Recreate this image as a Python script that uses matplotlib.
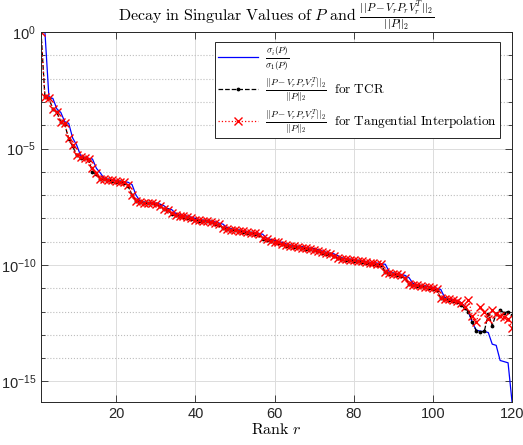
import matplotlib
matplotlib.use('Agg')
import matplotlib.pyplot as plt
from matplotlib.ticker import NullFormatter, FixedFormatter
from matplotlib.font_manager import FontProperties
import numpy as np

plt.rcParams['font.family'] = ['Liberation Sans', 'DejaVu Sans']
plt.rcParams['mathtext.fontset'] = 'custom'
plt.rcParams['mathtext.rm'] = 'Liberation Sans'
plt.rcParams['mathtext.it'] = 'Liberation Sans:italic'

# rank index
rank = np.arange(1, 121)

# log10 of sigma_i(P)/sigma_1(P)
sigma_log10 = [
    0, -0.02, -2.8, -2.85, -3.3, -3.45, -3.85, -3.92, -4.55, -4.85,
    -5.3, -5.38, -5.42, -5.45, -5.85, -6.05, -6.3, -6.32, -6.35, -6.37,
    -6.4, -6.42, -6.45, -6.55, -7.0, -7.25, -7.3, -7.32, -7.33, -7.35,
    -7.38, -7.45, -7.58, -7.62, -7.78, -7.85, -7.88, -7.9, -7.95, -8.0,
    -8.05, -8.08, -8.1, -8.12, -8.15, -8.2, -8.25, -8.4, -8.45, -8.48,
    -8.5, -8.53, -8.56, -8.6, -8.62, -8.64, -8.68, -8.85, -8.9, -8.95,
    -9.0, -9.03, -9.1, -9.15, -9.18, -9.2, -9.22, -9.25, -9.28, -9.3,
    -9.35, -9.4, -9.45, -9.5, -9.52, -9.6, -9.7, -9.73, -9.75, -9.78,
    -9.8, -9.82, -9.85, -9.88, -9.9, -9.92, -9.95, -9.97, -10.3, -10.35,
    -10.38, -10.4, -10.45, -10.55, -10.8, -10.85, -10.88, -10.9, -10.93, -10.96,
    -11.0, -11.05, -11.4, -11.45, -11.48, -11.52, -11.6, -11.75, -12.0, -12.5,
    -12.8, -12.84, -12.86, -12.9, -13.4, -13.45, -14.1, -14.15, -14.2, -15.87]

# log10 of relative error, TCR
tcr_log10 = [
    0, -2.8, -2.85, -3.3, -3.45, -3.85, -3.95, -4.6, -4.9, -5.3,
    -5.4, -5.42, -5.5, -6.0, -6.1, -6.3, -6.33, -6.36, -6.38, -6.42,
    -6.44, -6.47, -6.6, -7.0, -7.25, -7.3, -7.33, -7.35, -7.36, -7.4,
    -7.47, -7.6, -7.65, -7.8, -7.86, -7.9, -7.92, -7.97, -8.02, -8.06,
    -8.1, -8.12, -8.13, -8.17, -8.22, -8.28, -8.42, -8.46, -8.5, -8.52,
    -8.55, -8.58, -8.62, -8.64, -8.66, -8.7, -8.88, -8.92, -8.97, -9.02,
    -9.05, -9.12, -9.17, -9.2, -9.22, -9.24, -9.27, -9.3, -9.33, -9.37,
    -9.42, -9.47, -9.52, -9.55, -9.62, -9.72, -9.76, -9.78, -9.8, -9.83,
    -9.85, -9.88, -9.92, -9.94, -9.96, -9.98, -10.0, -10.32, -10.37, -10.4,
    -10.42, -10.48, -10.58, -10.82, -10.87, -10.9, -10.92, -10.95, -10.98, -11.02,
    -11.08, -11.42, -11.47, -11.5, -11.55, -11.58, -11.7, -11.85, -12.0, -12.45,
    -12.85, -12.88, -12.85, -12.1, -12.6, -12.1, -11.95, -12.05, -12.0, -12.15]

# log10 of relative error, tangential interpolation
tang_log10 = [
    0, -2.8, -2.85, -3.3, -3.45, -3.85, -3.92, -4.55, -4.85, -5.3,
    -5.38, -5.42, -5.45, -5.85, -6.05, -6.3, -6.32, -6.35, -6.37, -6.4,
    -6.42, -6.45, -6.55, -7.0, -7.25, -7.3, -7.32, -7.33, -7.35, -7.38,
    -7.45, -7.58, -7.62, -7.78, -7.85, -7.88, -7.9, -7.95, -8.0, -8.05,
    -8.08, -8.1, -8.12, -8.15, -8.2, -8.25, -8.4, -8.45, -8.48, -8.5,
    -8.53, -8.56, -8.6, -8.62, -8.64, -8.68, -8.85, -8.9, -8.95, -9.0,
    -9.03, -9.1, -9.15, -9.18, -9.2, -9.22, -9.25, -9.28, -9.3, -9.35,
    -9.4, -9.45, -9.5, -9.52, -9.6, -9.7, -9.73, -9.75, -9.78, -9.8,
    -9.82, -9.85, -9.88, -9.9, -9.92, -9.95, -9.97, -10.3, -10.35, -10.38,
    -10.4, -10.45, -10.55, -10.8, -10.85, -10.88, -10.9, -10.93, -10.96, -11.0,
    -11.05, -11.4, -11.45, -11.48, -11.52, -11.55, -11.65, -11.8, -11.5, -12.2,
    -12.45, -11.8, -12.0, -12.3, -11.95, -12.1, -12.2, -12.25, -12.3, -12.7]

ytick_vals = [1e-15, 1e-10, 1e-5, 1e0]
ytick_labels = [r'$10^{-15}$', r'$10^{-10}$', r'$10^{-5}$', r'$10^{0}$']
xtick_vals = [20, 40, 60, 80, 100, 120]

err_label = r'\frac{||P-V_rP_rV_r^T||_2}{||P||_2}'

fig = plt.figure(figsize=(5.23, 4.45), dpi=100)
ax = fig.add_axes([0.0784, 0.0973, 0.9006, 0.8307])

ax.plot(rank, 10.0 ** np.array(sigma_log10), '-', color='#0000ff', lw=0.9,
        label=r'$\frac{\sigma_i(P)}{\sigma_1(P)}$')
ax.plot(rank, 10.0 ** np.array(tcr_log10), '--', marker='.', color='black', lw=0.9, ms=3.5,
        label=r'$' + err_label + r'\mathrm{\ \ for\ TCR}$')
ax.plot(rank, 10.0 ** np.array(tang_log10), ':', marker='x', color='#ff0000', lw=0.9, ms=6,
        mew=1.0, label=r'$' + err_label + r'\mathrm{\ \ for\ Tangential\ Interpolation}$')

ax.set_yscale('log')
ax.set_xlim(1, 120)
ax.set_ylim(10.0 ** -15.87, 1.0)
ax.set_xticks(xtick_vals)
ax.set_yticks(ytick_vals)
ax.yaxis.set_major_formatter(FixedFormatter(ytick_labels))
ax.set_yticks([10.0 ** -k for k in range(16) if k % 5], minor=True)
ax.yaxis.set_minor_formatter(NullFormatter())
ax.xaxis.set_minor_locator(matplotlib.ticker.NullLocator())

ax.tick_params(which='both', direction='in', top=True, right=True, colors='#262626',
               labelsize=10.5, width=0.6)
ax.tick_params(which='major', length=5)
ax.tick_params(which='minor', length=3)
for s in ax.spines.values():
    s.set_color('#262626')
    s.set_linewidth(0.7)

ax.grid(True, which='major', color='#dcdcdc', ls='-', lw=0.7)
ax.grid(True, which='minor', axis='y', color='#bdbdbd', ls=':', lw=0.8)
ax.set_axisbelow(True)

ax.set_title(r'$\mathrm{Decay\ in\ Singular\ Values\ of\ }P\mathrm{\ and\ }' + err_label + r'$',
             fontsize=11.5, math_fontfamily='cm', pad=0.5)
ax.set_xlabel(r'$\mathrm{Rank}\ r$', fontsize=11.5, math_fontfamily='cm', labelpad=1)

leg = ax.legend(loc='upper right', bbox_to_anchor=(0.9745, 0.973), borderaxespad=0,
                prop=FontProperties(size=9.5, math_fontfamily='cm'),
                fancybox=False, framealpha=1, edgecolor='#262626', numpoints=1,
                handlelength=3.0, labelspacing=0.25, borderpad=0.2, handletextpad=0.6)
leg.get_frame().set_linewidth(0.7)

plt.savefig('out.png', dpi=100)
